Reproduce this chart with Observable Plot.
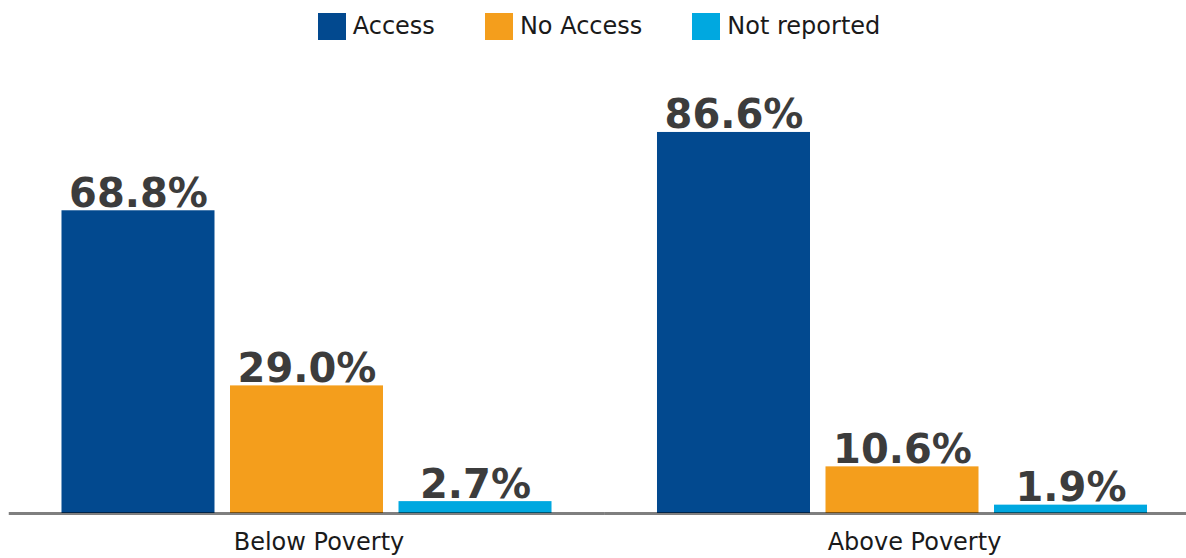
<!DOCTYPE html>
<html>
<head>
<meta charset="utf-8">
<script src="https://cdn.jsdelivr.net/npm/d3@7"></script>
<script src="https://cdn.jsdelivr.net/npm/@observablehq/plot@0.6"></script>
<style>
  html, body { margin: 0; padding: 0; background: #fff; }
  #legend { height: 52px; display: flex; justify-content: center; align-items: center; gap: 50px;
    font-family: "DejaVu Sans", sans-serif; font-size: 24px; color: #1a1a1a; padding-left: 12px; }
  .item { display: flex; align-items: center; gap: 7px; }
  .sw { width: 28px; height: 27px; display: inline-block; }
  #chart svg { display: block; }
</style>
</head>
<body>
<div id="legend"></div>
<div id="chart"></div>
<script>
const groups = ["Below Poverty", "Above Poverty"];
const series = ["Access", "No Access", "Not reported"];
const belowPoverty = [68.8, 29.0, 2.7];
const abovePoverty = [86.6, 10.6, 1.9];
const colors = ["#02498f", "#f49e1c", "#00a8e0"];

const valuesByGroup = [belowPoverty, abovePoverty];
const data = groups.flatMap((g, i) => series.map((s, j) => ({group: g, series: s, value: valuesByGroup[i][j]})));

const legend = document.getElementById("legend");
series.forEach((s, i) => {
  const item = document.createElement("div");
  item.className = "item";
  const sw = document.createElement("span");
  sw.className = "sw";
  sw.style.background = colors[i];
  const t = document.createElement("span");
  t.textContent = s;
  item.appendChild(sw);
  item.appendChild(t);
  legend.appendChild(item);
});

const chart = Plot.plot({
  width: 1186,
  height: 506,
  marginLeft: 0,
  marginRight: 0,
  marginTop: 21,
  marginBottom: 45,
  style: {fontFamily: "DejaVu Sans, sans-serif", fontSize: "24px", color: "#1a1a1a", background: "#fff"},
  fx: {domain: groups, range: [8.75, 1199.75], paddingInner: 0, paddingOuter: 0, round: false, label: null},
  x: {domain: series, paddingInner: 0.092, paddingOuter: 0.313, round: false, axis: null},
  y: {domain: [0, 100], axis: null},
  color: {domain: series, range: colors},
  marks: [
    Plot.barY(data, {fx: "group", x: "series", y: "value", fill: "series"}),
    Plot.ruleY([0], {stroke: "#000", strokeOpacity: 0.5, strokeWidth: 3}),
    Plot.axisFx({anchor: "bottom", tickSize: 0, tickPadding: 19, dx: 12, fontSize: 24, label: null}),
    Plot.text(data, {fx: "group", x: "series", y: "value", text: d => d.value.toFixed(1) + "%",
      lineAnchor: "bottom", dy: -4, fontSize: 40, fontWeight: "bold", fill: "#3c3c3c"})
  ]
});
document.getElementById("chart").appendChild(chart);
</script>
</body>
</html>
